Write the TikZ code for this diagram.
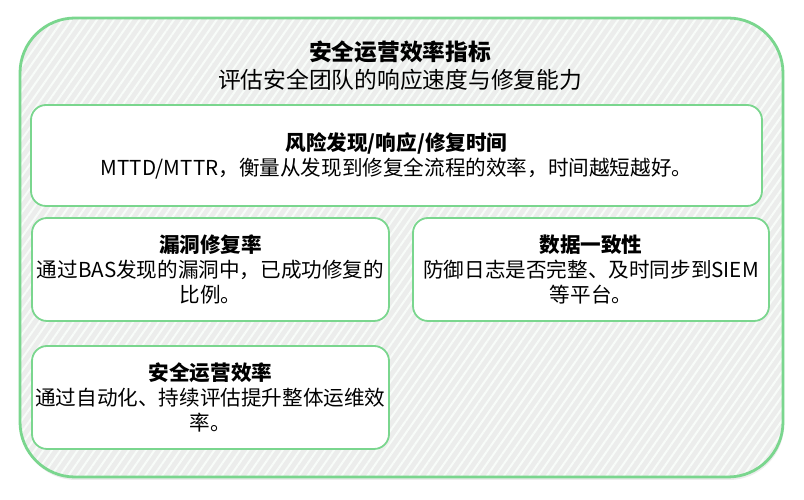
\documentclass[tikz,border=0pt]{standalone}
\usepackage{fontspec}
\setmainfont{Noto Sans CJK SC}
\usetikzlibrary{patterns.meta,shadows}
\definecolor{mintline}{RGB}{122,214,142}
\definecolor{hatchbase}{RGB}{236,237,236}
\definecolor{hatchline}{RGB}{248,252,249}

\begin{document}
\begin{tikzpicture}[x=1pt, y=1pt,
  panel/.style = {shape=rectangle, rounded corners=55pt, draw=mintline,
    line width=2.8pt,
    minimum width=763pt, minimum height=459pt,
    drop shadow={shadow xshift=1pt, shadow yshift=-3pt, fill=gray!30, opacity=.5},
    preaction={fill=hatchbase},
    preaction={pattern={Lines[angle=55, distance=7pt, line width=2pt]}, pattern color=hatchline}},
  card/.style = {shape=rectangle, rounded corners=15pt, draw=mintline,
    line width=1.8pt, fill=white, align=center, inner sep=2pt,
    minimum width=357pt, minimum height=103pt,
    font=\fontsize{20.6}{25}\selectfont}]
  \useasboundingbox (0,0) rectangle (804,500);
  \node [panel] (frame) at (401.5,252.5) {};
  \node [align=center, font=\fontsize{22.75}{28}\selectfont] (heading) at (400,434)
    {\textbf{安全运营效率指标}\\评估安全团队的响应速度与修复能力};
  \node [card, minimum width=731pt, minimum height=101pt] (mttr) at (396.5,344.5)
    {\textbf{风险发现/响应/修复时间}\\MTTD/MTTR，衡量从发现到修复全流程的效率，时间越短越好。};
  \node [card] (fixrate) at (210.5,230.5)
    {\textbf{漏洞修复率}\\通过BAS发现的漏洞中，已成功修复的\\比例。};
  \node [card, minimum width=356pt] (consist) at (591,230.5)
    {\textbf{数据一致性}\\防御日志是否完整、及时同步到SIEM\\等平台。};
  \node [card] (opseff) at (210.5,102.5)
    {\textbf{安全运营效率}\\通过自动化、持续评估提升整体运维效\\率。};
\end{tikzpicture}
\end{document}
